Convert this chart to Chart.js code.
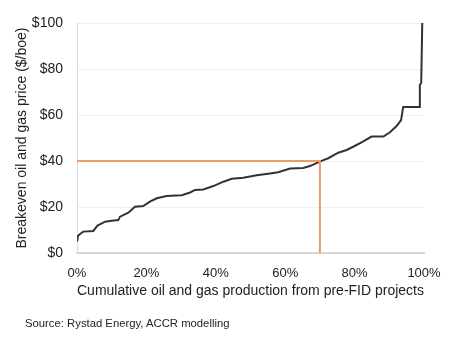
<!DOCTYPE html>
<html>
<head>
<meta charset="utf-8">
<script src="https://cdn.jsdelivr.net/npm/chart.js@4"></script>
<style>
  html, body { margin: 0; padding: 0; background: #fff; }
  #wrap { position: relative; width: 460px; height: 337px; }
  #source {
    position: absolute;
    left: 25px;
    top: 317px;
    font: 11.3px "Liberation Sans", Arial, sans-serif;
    color: #222;
  }
</style>
</head>
<body>
<div id="wrap">
  <canvas id="breakevenChart" width="460" height="337"></canvas>
  <div id="source">Source: Rystad Energy, ACCR modelling</div>
</div>
<script>
// cumulative production share (%) and breakeven price ($/boe)
const productionPct = [
  0, 0.3, 0.9, 1.8, 4.7, 5.9, 8.1, 10, 11.9, 12.4, 14.8, 16.7, 19.1, 21,
  23, 25.8, 30.2, 32.6, 34, 36.4, 39.3, 42.2, 44.6, 47.9, 51.8, 55.6, 58,
  61.4, 65.2, 67.1, 69.5, 71, 72.4, 75.3, 77.7, 79.6, 82, 84.9, 88.3,
  90.2, 92.1, 93.4, 94, 98.8, 98.8, 99.2, 99.5
];
const breakevenPrice = [
  5, 7.5, 8.3, 9.3, 9.6, 11.9, 13.6, 14, 14.3, 15.8, 17.5, 20.1, 20.4, 22.3,
  23.8, 24.8, 25.1, 26.3, 27.4, 27.6, 29.1, 31, 32.3, 32.7, 33.8, 34.6, 35.1,
  36.7, 37, 37.8, 39.4, 40.4, 41.2, 43.6, 44.8, 46.2, 48.1, 50.6, 50.6,
  52.5, 55.2, 57.8, 63.5, 63.5, 73, 74, 100
];

// marker: 70% of production at $40
const markerPct = [0, 70, 70];
const markerPrice = [40, 40, 0];

const yTicks = [0, 20, 40, 60, 80, 100];
const xTicks = [0, 20, 40, 60, 80, 100];

const curvePoints =
  productionPct.map(
    (x, i) => ({ x, y: breakevenPrice[i] })
  );

const markerPoints =
  markerPct.map(
    (x, i) => ({ x, y: markerPrice[i] })
  );

const canvas =
  document.getElementById(
    "breakevenChart"
  );

new Chart(canvas, {
  type: "line",
  data: {
    datasets: [
      {
        data: markerPoints,
        borderColor: "#ef9a68",
        borderWidth: 2,
        pointRadius: 0,
        tension: 0,
        fill: false
      },
      {
        data: curvePoints,
        borderColor: "#333333",
        borderWidth: 2,
        pointRadius: 0,
        tension: 0,
        fill: false
      }
    ]
  },
  options: {
    responsive: false,
    animation: false,
    layout: {
      padding: { top: 23, right: 36, bottom: 0, left: 0 }
    },
    plugins: {
      legend: { display: false },
      tooltip: { enabled: false }
    },
    scales: {
      x: {
        type: "linear",
        min: 0,
        max: 100,
        afterBuildTicks: scale => {
          scale.ticks = xTicks.map(v => ({ value: v }));
        },
        afterFit: scale => {
          scale.height = 84;
        },
        grid: {
          display: false,
          drawTicks: false
        },
        border: {
          color: "#d6d6d6",
          width: 2
        },
        ticks: {
          padding: 13,
          color: "#222",
          font: { family: "Liberation Sans", size: 13 },
          callback: v => v + "%"
        },
        title: {
          display: true,
          text: "Cumulative oil and gas production from pre-FID projects",
          color: "#222",
          font: { family: "Liberation Sans", size: 14 },
          padding: { top: 0, bottom: 37 }
        }
      },
      y: {
        min: 0,
        max: 100,
        afterBuildTicks: scale => {
          scale.ticks = yTicks.map(v => ({ value: v }));
        },
        afterFit: scale => {
          scale.width = 77;
        },
        grid: {
          color: "#efefef",
          lineWidth: 1,
          drawTicks: false
        },
        border: {
          color: "#dddddd",
          width: 1
        },
        ticks: {
          padding: 14,
          color: "#222",
          font: { family: "Liberation Sans", size: 14 },
          callback: v => "$" + v
        },
        title: {
          display: true,
          text: "Breakeven oil and gas price ($/boe)",
          color: "#222",
          font: { family: "Liberation Sans", size: 14 },
          padding: { top: 14, bottom: 0 }
        }
      }
    }
  }
});
</script>
</body>
</html>
